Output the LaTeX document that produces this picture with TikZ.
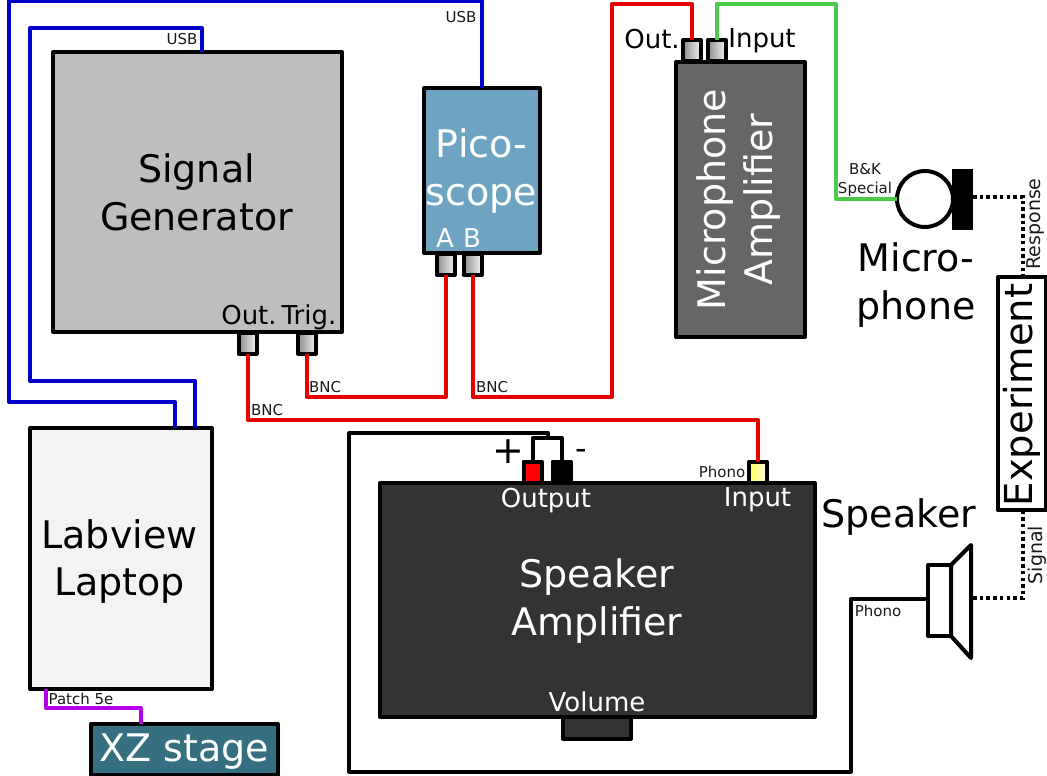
\documentclass[tikz,border=0pt]{standalone}
\usepackage{fontspec}
\setmainfont{DejaVu Sans}
\definecolor{wred}{HTML}{E60000}
\definecolor{wblue}{HTML}{0000C8}
\definecolor{wgreen}{HTML}{4BC94B}
\definecolor{wpurple}{HTML}{B400E6}
\definecolor{sgfill}{HTML}{BEBEBE}
\definecolor{picofill}{HTML}{6FA3C2}
\definecolor{mafill}{HTML}{666666}
\definecolor{spfill}{HTML}{333333}
\definecolor{lapfill}{HTML}{F3F3F3}
\definecolor{xzfill}{HTML}{366F80}
\tikzset{
  box/.style={draw=black,line width=4pt,rectangle,inner sep=0pt,outer sep=0pt,line join=round},
  bnc/.style={box,minimum width=18pt,minimum height=21pt,left color=black!45,right color=black!5},
  wire/.style={line width=4pt,line join=round},
  dotwire/.style={line width=3.5pt,dash pattern=on 3.5pt off 3.2pt},
  lab/.style={inner sep=0pt,outer sep=0pt,align=center},
  big/.style={lab,font=\fontsize{38}{47.5}\selectfont},
  mid/.style={lab,anchor=base,font=\fontsize{26}{32}\selectfont},
  tiny/.style={lab,text=black!90,font=\fontsize{15}{20}\selectfont},
  vlab/.style={lab,rotate=90,text=black!90,font=\fontsize{19}{20}\selectfont},
}
\begin{document}
\begin{tikzpicture}[x=1pt,y=-1pt]
\useasboundingbox (0,0) rectangle (1047,776);
% boxes
\node[box,fill=sgfill,minimum width=289pt,minimum height=280pt] (sg) at (197.5,192) {};
\node[box,fill=picofill,minimum width=116pt,minimum height=165pt] (pico) at (482,170.5) {};
\node[box,fill=mafill,minimum width=129pt,minimum height=275pt] (ma) at (740.5,199.5) {};
\node[box,fill=lapfill,minimum width=182pt,minimum height=261pt] (lap) at (121,558.5) {};
\node[box,fill=spfill,minimum width=435pt,minimum height=234pt] (sa) at (597.5,600) {};
\node[box,fill=spfill,minimum width=68pt,minimum height=22pt] (vol) at (597,728) {};
\node[box,fill=xzfill,minimum width=187pt,minimum height=51pt] (xz) at (184.5,749.5) {};
\node[box,fill=white,minimum width=48pt,minimum height=233pt] (ex) at (1021.5,393.5) {};
% connectors
\node[bnc] (sgout) at (247.5,343) {};
\node[bnc] (sgtrig) at (307,343) {};
\node[bnc] (pa) at (445.5,264.5) {};
\node[bnc] (pb) at (472.5,264.5) {};
\node[bnc] (mo) at (692,50.5) {};
\node[bnc] (mi) at (716.5,50.5) {};
\node[box,fill=red,minimum width=18pt,minimum height=21pt] (plus) at (532.5,472) {};
\node[box,fill=black,minimum width=18pt,minimum height=21pt] (minus) at (561.5,472) {};
\node[box,minimum width=18pt,minimum height=21pt,left color=yellow!70!white,right color=yellow!5!white] (ph) at (758,472) {};
% microphone
\node[box,circle,fill=white,minimum size=56pt] (mic) at (925,199) {};
\node[rectangle,fill=black,inner sep=0pt,outer sep=0pt,minimum width=21pt,minimum height=61pt] (micb) at (962.5,199.5) {};
% speaker
\node[box,fill=white,minimum width=23pt,minimum height=71pt] (spk) at (939.5,600.5) {};
\draw[wire,fill=white] (spk.north east) -- (971,545) -- (971,658) -- (spk.south east) -- cycle;
\coordinate (cone) at (973,598);
\coordinate (exT) at (1023,277);
\coordinate (exB) at (1023,512);
% wires
\draw[wire,wblue] ([xshift=74pt]lap.north) |- (30,381) -- (30,28) -| ([xshift=4.5pt]sg.north);
\draw[wire,wblue] ([xshift=54pt]lap.north) |- (9,402) -- (9,1) -| (pico.north);
\draw[wire,wred] (sgout.south) |- (758,420) -- (ph.north);
\draw[wire,wred] (sgtrig.south) |- (445.5,397) -- (pa.south);
\draw[wire,wred] (pb.south) |- (612,397) -- (612,4) -| (mo.north);
\draw[wire,wgreen] (mi.north) |- (836,4) |- (mic.west);
\draw[wire,wpurple] (46,689) |- (141,708) -- (141,724);
\draw[wire] (spk.west) ++(0,-1.5) -| (851,772) -| (349,433) -| (548,438);
\draw[wire] (plus.north) |- (561.5,438) -- (minus.north);
\draw[dotwire] (micb.east) ++(0,-2.5) -| (exT);
\draw[dotwire] (cone) -| (exB);
% text
\node[big] (t1) at (196.5,192.5) {Signal\\Generator};
\node[big,text=white] (t2) at (481.5,171) {Pico-\\scope};
\node[big,text=white,rotate=90] (t3) at (738.5,199.5) {Microphone\\Amplifier};
\node[big] (t4) at (119.5,561.5) {Labview\\Laptop};
\node[big,text=white] (t5) at (597,601) {Speaker\\Amplifier};
\node[big,text=white] (t6) at (184.5,752) {XZ stage};
\node[big] (t7) at (916,285) {Micro-\\phone};
\node[big] (t8) at (899,517) {Speaker};
\node[lab,rotate=90,font=\fontsize{38.5}{47.5}\selectfont] (t9) at (1022,395) {Experiment};
\node[mid] (t10) at (249,324) {Out.};
\node[mid] (t11) at (309,324) {Trig.};
\node[mid,text=white] (t12) at (445,247) {A};
\node[mid,text=white] (t13) at (472,247) {B};
\node[mid] (t14) at (652,49) {Out.};
\node[mid] (t15) at (762,48) {Input};
\node[mid,text=white] (t16) at (546,507) {Output};
\node[mid,text=white] (t17) at (757.5,506.5) {Input};
\node[mid,text=white] (t18) at (597,711) {Volume};
\node[lab,font=\fontsize{38}{38}\selectfont] (t19) at (508,452) {+};
\node[lab,font=\fontsize{32}{32}\selectfont] (t20) at (581,454) {-};
\node[tiny] (l1) at (182,39) {USB};
\node[tiny] (l2) at (461,17) {USB};
\node[tiny] (l3) at (325,387) {BNC};
\node[tiny] (l4) at (492,387) {BNC};
\node[tiny] (l5) at (267,410) {BNC};
\node[tiny] (l6) at (722,472) {Phono};
\node[tiny] (l7) at (81,699) {Patch 5e};
\node[tiny] (l8) at (878,611) {Phono};
\node[tiny] (l9) at (865,179.5) {B\&K\\[-1pt]Special};
\node[vlab] (l10) at (1036,224) {Response};
\node[vlab] (l11) at (1037,555) {Signal};
\end{tikzpicture}
\end{document}
